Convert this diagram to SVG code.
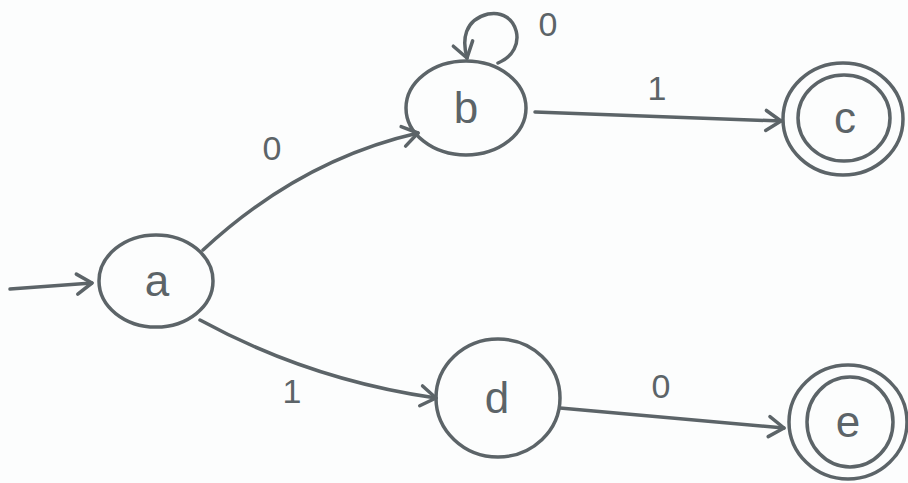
<svg xmlns="http://www.w3.org/2000/svg" width="908" height="483" viewBox="0 0 908 483">
<style>
.st{fill:none;stroke:#5c6468;stroke-width:3.5;stroke-linecap:round;stroke-linejoin:round}
.lbl{font-family:"Liberation Sans",Arial,sans-serif;fill:#5c6468;text-anchor:middle}
.node{font-size:44px}
.edge{font-size:34px}
</style>
<defs>
<marker id="arr" markerUnits="userSpaceOnUse" markerWidth="30" markerHeight="30" viewBox="-20 -15 30 30" refX="0" refY="0" orient="auto">
<path d="M-15,-10 L0,0 L-15,10" fill="none" stroke="#5c6468" stroke-width="3.5" stroke-linecap="round" stroke-linejoin="round"/>
</marker>
</defs>
<rect width="908" height="483" fill="#fcfdfd"/>
<g id="connectors">
<path class="st" d="M10,289 L92,283" marker-end="url(#arr)"/>
<path class="st" d="M203,250 Q300,160 418,133" marker-end="url(#arr)"/>
<path class="st" d="M200,320 Q310,380 436,398" marker-end="url(#arr)"/>
<path class="st" d="M498,63 C530,50 518,8 488,14 C464,20 462,40 467,58" marker-end="url(#arr)"/>
<path class="st" d="M535,112 L781,121" marker-end="url(#arr)"/>
<path class="st" d="M560,408 L784,428" marker-end="url(#arr)"/>
<text class="lbl edge" x="272" y="160">0</text>
<text class="lbl edge" x="292" y="403">1</text>
<text class="lbl edge" x="548" y="36">0</text>
<text class="lbl edge" x="657" y="100">1</text>
<text class="lbl edge" x="661" y="398">0</text>
</g>
<g id="node-a">
<ellipse class="st" cx="156" cy="281" rx="57" ry="46"/>
<text class="lbl node" x="157" y="296">a</text>
</g>
<g id="node-b">
<ellipse class="st" cx="466" cy="108" rx="60" ry="47"/>
<text class="lbl node" x="466" y="123">b</text>
</g>
<g id="node-c">
<ellipse class="st" cx="843" cy="119" rx="60" ry="56"/>
<ellipse class="st" cx="844" cy="118" rx="46" ry="43"/>
<text class="lbl node" x="845" y="133">c</text>
</g>
<g id="node-d">
<ellipse class="st" cx="498" cy="398" rx="62" ry="59"/>
<text class="lbl node" x="497" y="413">d</text>
</g>
<g id="node-e">
<ellipse class="st" cx="848" cy="422" rx="59" ry="57"/>
<ellipse class="st" cx="850" cy="422" rx="43" ry="45"/>
<text class="lbl node" x="848" y="437">e</text>
</g>
</svg>
